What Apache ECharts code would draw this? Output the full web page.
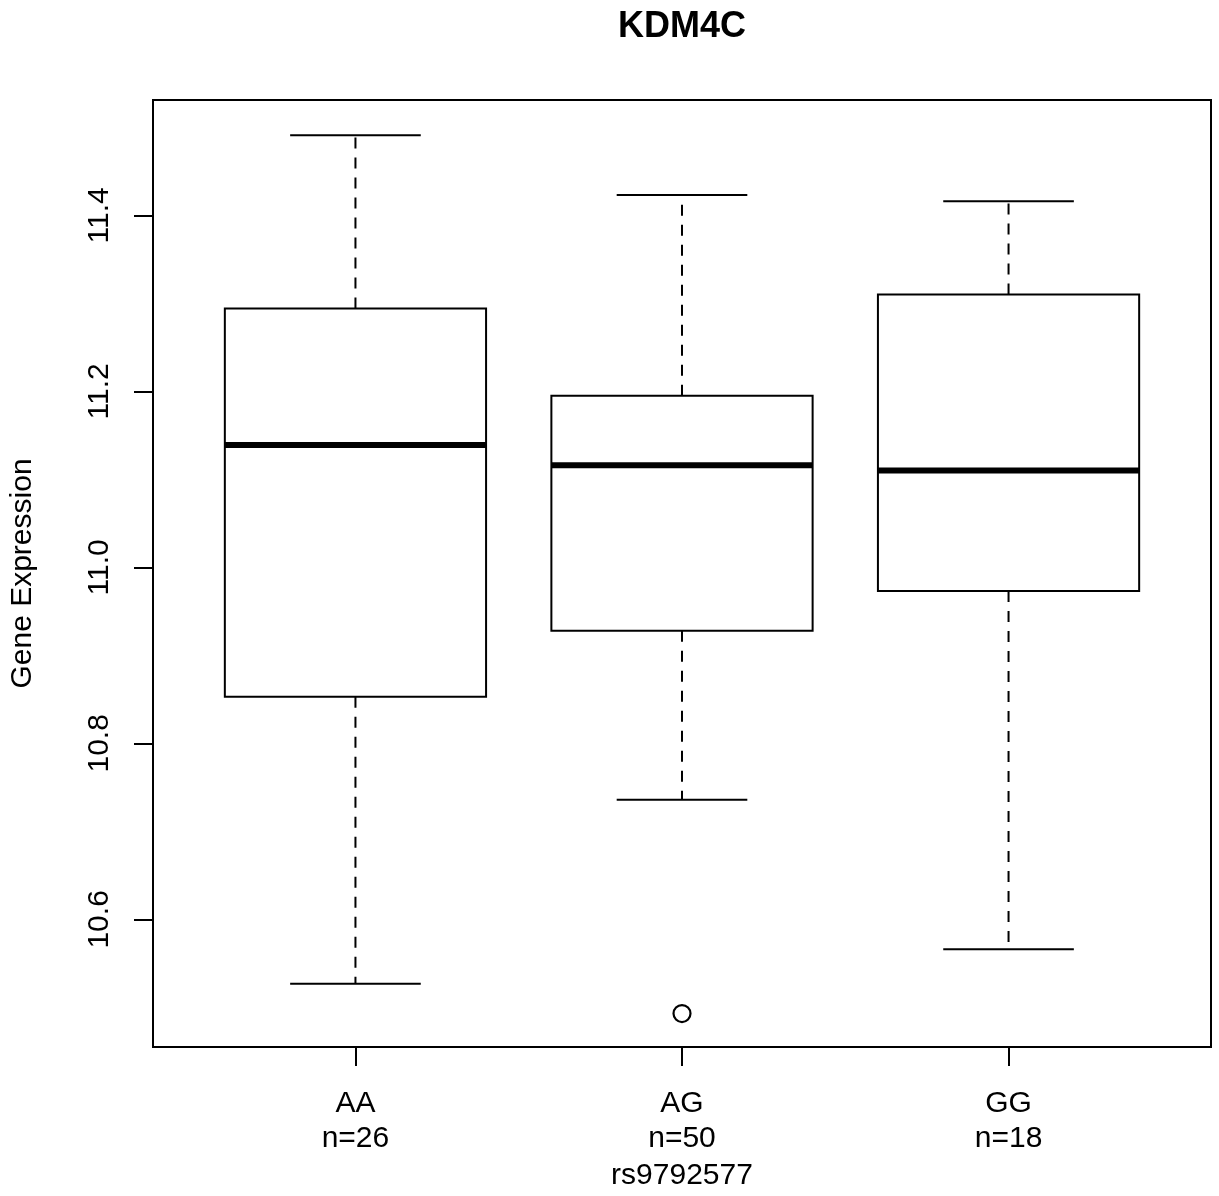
<!DOCTYPE html>
<html>
<head>
<meta charset="utf-8">
<script src="https://cdn.jsdelivr.net/npm/echarts@6/dist/echarts.min.js"></script>
<style>
html,body{margin:0;padding:0;background:#fff;}
#chart{width:1219px;height:1196px;}
</style>
</head>
<body>
<div id="chart"></div>
<script>
// ---- Data ----
const categories = ['AA', 'AG', 'GG'];
const counts = [26, 50, 18];
const lowerWhisker = [10.527, 10.736, 10.566];
const q1 = [10.853, 10.928, 10.973];
const median = [11.139, 11.116, 11.110];
const q3 = [11.294, 11.195, 11.310];
const upperWhisker = [11.491, 11.423, 11.416];
const outliers = [[2, 10.493]]; // [group position, value]
const yTicks = [10.6, 10.8, 11.0, 11.2, 11.4];
const xTicks = [1, 2, 3];
const titleText = 'KDM4C';
const xName = 'rs9792577';
const yName = 'Gene Expression';

const FONT = '"Liberation Sans", Arial, Helvetica, sans-serif';

const boxData = categories.map((c, i) => [i + 1, lowerWhisker[i], q1[i], median[i], q3[i], upperWhisker[i]]);

const chart = echarts.init(document.getElementById('chart'), null, {renderer: 'canvas'});

function renderBox(params, api) {
  const x = api.value(0);
  const lw = api.value(1), lq = api.value(2), md = api.value(3), uq = api.value(4), uw = api.value(5);
  const boxW = api.size([0.8, 0])[0];
  const capW = api.size([0.4, 0])[0];
  const c = api.coord([x, md]);
  const pLW = api.coord([x, lw]);
  const pQ1 = api.coord([x, lq]);
  const pQ3 = api.coord([x, uq]);
  const pUW = api.coord([x, uw]);
  const cx = c[0];
  const dash = {stroke: '#000', lineWidth: 2, lineDash: [11, 9]};
  const solid = {stroke: '#000', lineWidth: 2};
  return {
    type: 'group',
    children: [
      {type: 'line', shape: {x1: cx, y1: pQ3[1], x2: cx, y2: pUW[1]}, style: dash},
      {type: 'line', shape: {x1: cx, y1: pQ1[1], x2: cx, y2: pLW[1]}, style: dash},
      {type: 'line', shape: {x1: cx - capW / 2, y1: pUW[1], x2: cx + capW / 2, y2: pUW[1]}, style: solid},
      {type: 'line', shape: {x1: cx - capW / 2, y1: pLW[1], x2: cx + capW / 2, y2: pLW[1]}, style: solid},
      {type: 'rect', shape: {x: cx - boxW / 2, y: pQ3[1], width: boxW, height: pQ1[1] - pQ3[1]},
        style: {fill: '#fff', stroke: '#000', lineWidth: 2}},
      {type: 'line', shape: {x1: cx - boxW / 2, y1: c[1], x2: cx + boxW / 2, y2: c[1]},
        style: {stroke: '#000', lineWidth: 6}}
    ]
  };
}

const option = {
  animation: false,
  backgroundColor: '#fff',
  title: {
    text: titleText,
    left: 677,
    top: 4,
    textAlign: 'center',
    textStyle: {fontFamily: FONT, fontWeight: 'bold', fontSize: 36, color: '#000'}
  },
  grid: {
    left: 152, right: 8, top: 100, bottom: 147,
    show: true, borderColor: '#000', borderWidth: 2, backgroundColor: 'transparent'
  },
  xAxis: {
    type: 'value',
    min: 0.38, max: 3.62,
    name: xName,
    nameLocation: 'middle',
    nameGap: 114,
    nameTextStyle: {fontFamily: FONT, fontSize: 30, color: '#000'},
    splitLine: {show: false},
    axisLine: {show: false},
    axisTick: {show: true, customValues: xTicks, length: 19, inside: false, lineStyle: {color: '#000', width: 2}},
    axisLabel: {
      customValues: xTicks,
      margin: 39,
      fontFamily: FONT, fontSize: 30, color: '#000', lineHeight: 35,
      formatter: v => {
        const i = Math.round(v) - 1;
        return categories[i] + '\nn=' + counts[i];
      }
    }
  },
  yAxis: {
    type: 'value',
    min: 10.455, max: 11.531,
    name: yName,
    nameLocation: 'middle',
    nameGap: 115,
    nameRotate: 90,
    nameTextStyle: {fontFamily: FONT, fontSize: 30, color: '#000'},
    splitLine: {show: false},
    axisLine: {show: false},
    axisTick: {show: true, customValues: yTicks, length: 19, inside: false, lineStyle: {color: '#000', width: 2}},
    axisLabel: {
      customValues: yTicks,
      rotate: 90,
      margin: 38,
      fontFamily: FONT, fontSize: 30, color: '#000',
      formatter: v => v.toFixed(1)
    }
  },
  series: [
    {
      type: 'custom',
      renderItem: renderBox,
      data: boxData,
      encode: {x: 0, y: [1, 2, 3, 4, 5]},
      clip: false,
      z: 2
    },
    {
      type: 'scatter',
      data: outliers,
      symbol: 'circle',
      symbolSize: 17,
      itemStyle: {color: '#fff', borderColor: '#000', borderWidth: 2.2, opacity: 1},
      z: 3
    }
  ]
};

chart.setOption(option);
</script>
</body>
</html>
